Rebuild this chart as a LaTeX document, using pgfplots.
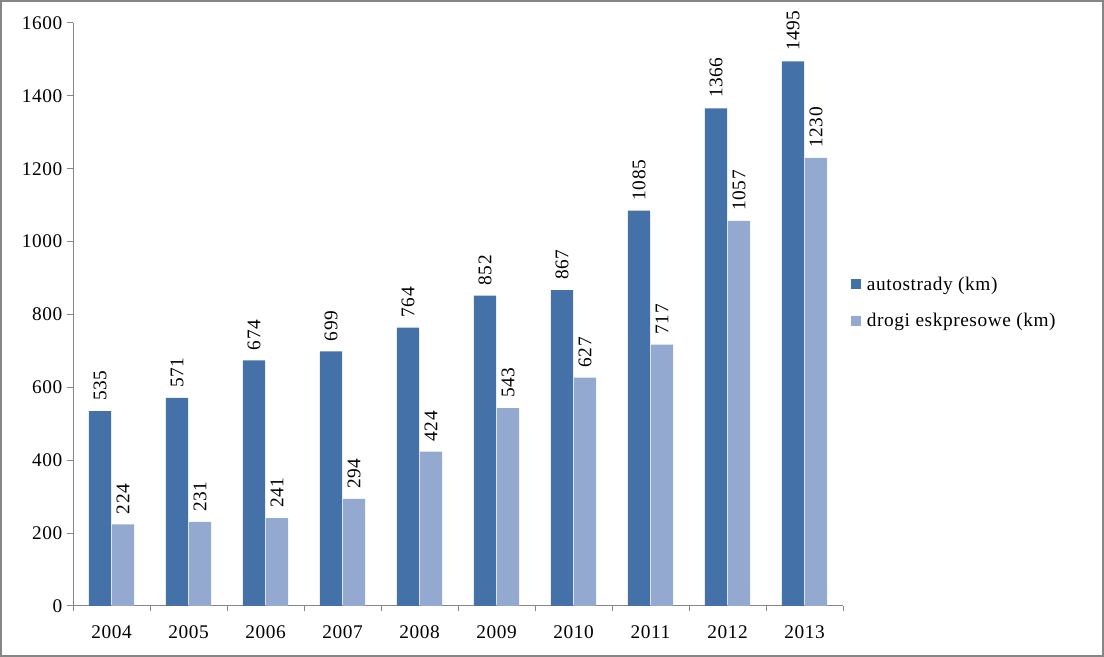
\documentclass[border=0pt]{standalone}
\usepackage{pgfplots}
\pgfplotsset{compat=1.18}
\usepackage{fontspec}
\setmainfont{Liberation Serif}
\newfontfamily\chartfam[LetterSpace=3]{Liberation Serif}
\definecolor{autoc}{HTML}{4472A8}
\definecolor{ekspc}{HTML}{93A9D0}
\definecolor{axisgray}{HTML}{868686}
\newcommand\chartfont{\chartfam\fontsize{14.5}{17}\selectfont}

\begin{document}
\begin{tikzpicture}
    \useasboundingbox (0pt,0pt) rectangle (828pt,492.75pt);
    % outer frame of the picture
    \draw[axisgray, line width=1.5pt] (0.75pt,0.75pt) rectangle (827.25pt,492pt);
    \begin{axis}[
        scale only axis,
        width=577.5pt,
        height=437.25pt,
        anchor=south west,
        at={(54.75pt,38.25pt)},
        ybar=0.6pt,
        bar width=16.6pt,
        xmin=-0.5, xmax=9.5,
        ymin=0, ymax=1600,
        xtick={0,...,9},
        xticklabels={2004,2005,2006,2007,2008,2009,2010,2011,2012,2013},
        minor xtick={-0.5,0.5,...,9.5},
        major x tick style={draw=none},
        ytick={0,200,...,1600},
        tick align=outside,
        major tick length=4.5pt,
        minor tick length=4pt,
        axis x line*=bottom,
        axis y line*=left,
        axis line style={axisgray, line width=0.75pt},
        tick style={axisgray, line width=0.75pt},
        /pgf/number format/assume math mode=true,
        /pgf/number format/1000 sep={},
        tick label style={font=\chartfont, text=black},
        xticklabel style={yshift=-6.5pt},
        nodes near coords,
        every node near coord/.append style={rotate=90, anchor=west,
            font=\chartfont, text=black, inner xsep=7.5pt, inner ysep=2pt},
        legend style={at={(1.01,0.52)}, anchor=west, draw=none, fill=none,
            font=\chartfont, row sep=12pt, inner sep=0pt,
            nodes={inner xsep=4.5pt}},
        legend cell align=left,
        legend image code/.code={\fill[#1] (0pt,-3.75pt) rectangle (7.5pt,3.75pt);},
    ]
        \addplot[fill=autoc, draw=none] coordinates {
            (0,535) (1,571) (2,674) (3,699) (4,764)
            (5,852) (6,867) (7,1085) (8,1366) (9,1495)
        };
        \addlegendentry{autostrady (km)}

        \addplot[fill=ekspc, draw=none] coordinates {
            (0,224) (1,231) (2,241) (3,294) (4,424)
            (5,543) (6,627) (7,717) (8,1057) (9,1230)
        };
        \addlegendentry{drogi eskpresowe (km)}
    \end{axis}
\end{tikzpicture}
\end{document}
